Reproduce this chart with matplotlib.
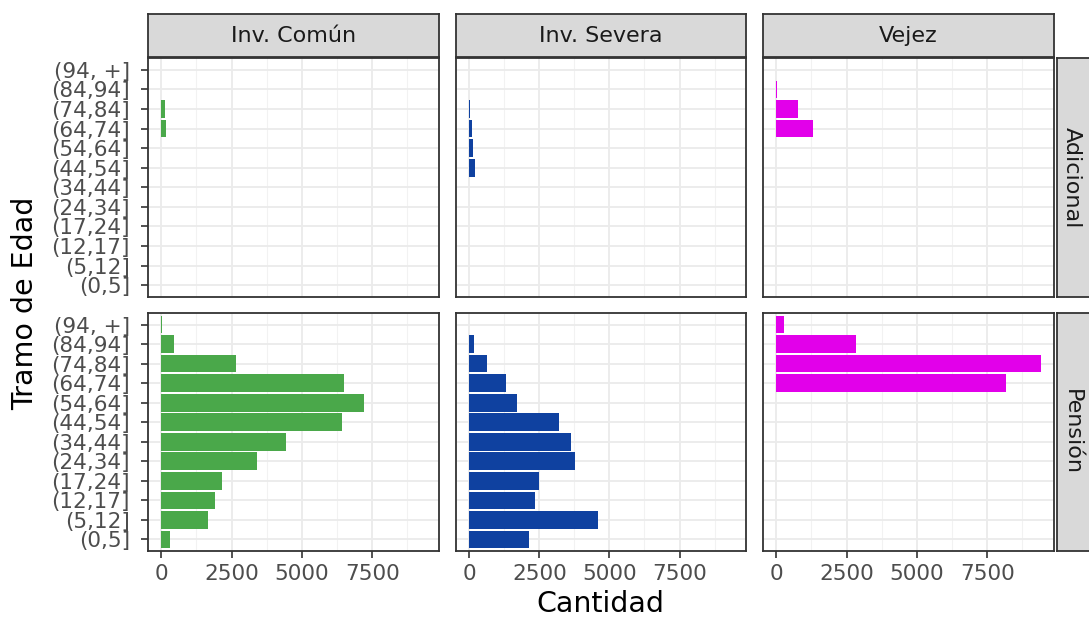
import numpy as np
import matplotlib
matplotlib.use("Agg")
import matplotlib.pyplot as plt
from matplotlib.ticker import MultipleLocator

# age brackets, bottom to top
tramos = ["(0,5]", "(5,12]", "(12,17]", "(17,24]", "(24,34]", "(34,44]",
          "(44,54]", "(54,64]", "(64,74]", "(74,84]", "(84,94]", "(94, +]"]

columnas = ["Inv. Común", "Inv. Severa", "Vejez"]
filas = ["Adicional", "Pensión"]

# Adicional
com_adic = [0, 0, 0, 0, 0, 0, 0, 0, 170, 130, 0, 0]
sev_adic = [0, 0, 0, 0, 0, 0, 200, 150, 100, 20, 0, 0]
vej_adic = [0, 0, 0, 0, 0, 0, 0, 0, 1320, 780, 30, 0]

# Pensión
com_pens = [320, 1670, 1915, 2160, 3400, 4430, 6420, 7200, 6490, 2660, 460, 15]
sev_pens = [2150, 4610, 2360, 2500, 3770, 3620, 3200, 1690, 1300, 630, 170, 10]
vej_pens = [0, 0, 0, 0, 0, 0, 0, 0, 8170, 9400, 2820, 280]

datos = {
    ("Adicional", "Inv. Común"): com_adic,
    ("Adicional", "Inv. Severa"): sev_adic,
    ("Adicional", "Vejez"): vej_adic,
    ("Pensión", "Inv. Común"): com_pens,
    ("Pensión", "Inv. Severa"): sev_pens,
    ("Pensión", "Vejez"): vej_pens,
}
colores = {"Inv. Común": "#4AA84A", "Inv. Severa": "#0F41A0", "Vejez": "#E200EA"}

W, H = 1089, 619
fig = plt.figure(figsize=(W / 100, H / 100), dpi=100)
fig.patch.set_facecolor("white")

def px(x0, y0, x1, y1):
    return [x0 / W, 1 - y1 / H, (x1 - x0) / W, (y1 - y0) / H]

col_x = [(148, 439), (456, 746), (763, 1054)]
row_y = [(58, 297), (313, 551)]

xmax = max(max(v) for v in datos.values())
xlim = (-0.05 * xmax, 1.05 * xmax)
y = np.arange(len(tramos))
borde = "#333333"

for i, fila in enumerate(filas):
    for j, col in enumerate(columnas):
        ax = fig.add_axes(px(col_x[j][0], row_y[i][0], col_x[j][1], row_y[i][1]))
        ax.barh(y, datos[(fila, col)], height=0.9, color=colores[col], zorder=3)
        ax.set_xlim(xlim)
        ax.set_ylim(-0.6, len(tramos) - 0.4)
        ax.xaxis.set_major_locator(MultipleLocator(2500))
        ax.xaxis.set_minor_locator(MultipleLocator(1250))
        ax.set_yticks(y)
        ax.grid(True, which="major", color="#EBEBEB", linewidth=1.3, zorder=0)
        ax.grid(True, which="minor", axis="x", color="#F2F2F2", linewidth=0.8, zorder=0)
        ax.set_axisbelow(True)
        for s in ax.spines.values():
            s.set_color(borde)
            s.set_linewidth(1.3)
        ax.tick_params(which="minor", length=0)
        ax.tick_params(which="major", color=borde, length=5, width=1.2,
                       labelcolor="#4D4D4D", labelsize=15.5)
        ax.tick_params(axis="y", pad=8)
        ax.tick_params(axis="x", pad=4.5)
        if j == 0:
            ax.set_yticklabels(tramos)
        else:
            ax.tick_params(axis="y", left=False, labelleft=False)
        if i == 1:
            ax.set_xticks([0, 2500, 5000, 7500])
            ax.set_xticklabels(["0", "2500", "5000", "7500"])
        else:
            ax.tick_params(axis="x", bottom=False, labelbottom=False)

# column strips
for j, col in enumerate(columnas):
    sax = fig.add_axes(px(col_x[j][0], 14, col_x[j][1], 57))
    sax.set_facecolor("#D9D9D9")
    sax.set_xticks([])
    sax.set_yticks([])
    for s in sax.spines.values():
        s.set_color(borde)
        s.set_linewidth(1.3)
    sax.text(0.5, 0.5, col, ha="center", va="center", fontsize=16,
             color="#1A1A1A", transform=sax.transAxes)

# row strips
for i, fila in enumerate(filas):
    sax = fig.add_axes(px(1057, row_y[i][0], 1090, row_y[i][1]))
    sax.set_facecolor("#D9D9D9")
    sax.set_xticks([])
    sax.set_yticks([])
    for s in sax.spines.values():
        s.set_color(borde)
        s.set_linewidth(1.3)
    sax.text(0.45, 0.5, fila, ha="center", va="center", fontsize=16,
             color="#1A1A1A", rotation=-90, transform=sax.transAxes)

fig.text(600 / W, 1 - 604 / H, "Cantidad", ha="center", va="center", fontsize=20.5)
fig.text(25 / W, 1 - 303 / H, "Tramo de Edad", ha="center", va="center",
         fontsize=20.5, rotation=90)

fig.savefig("out.png", dpi=100, facecolor="white")
